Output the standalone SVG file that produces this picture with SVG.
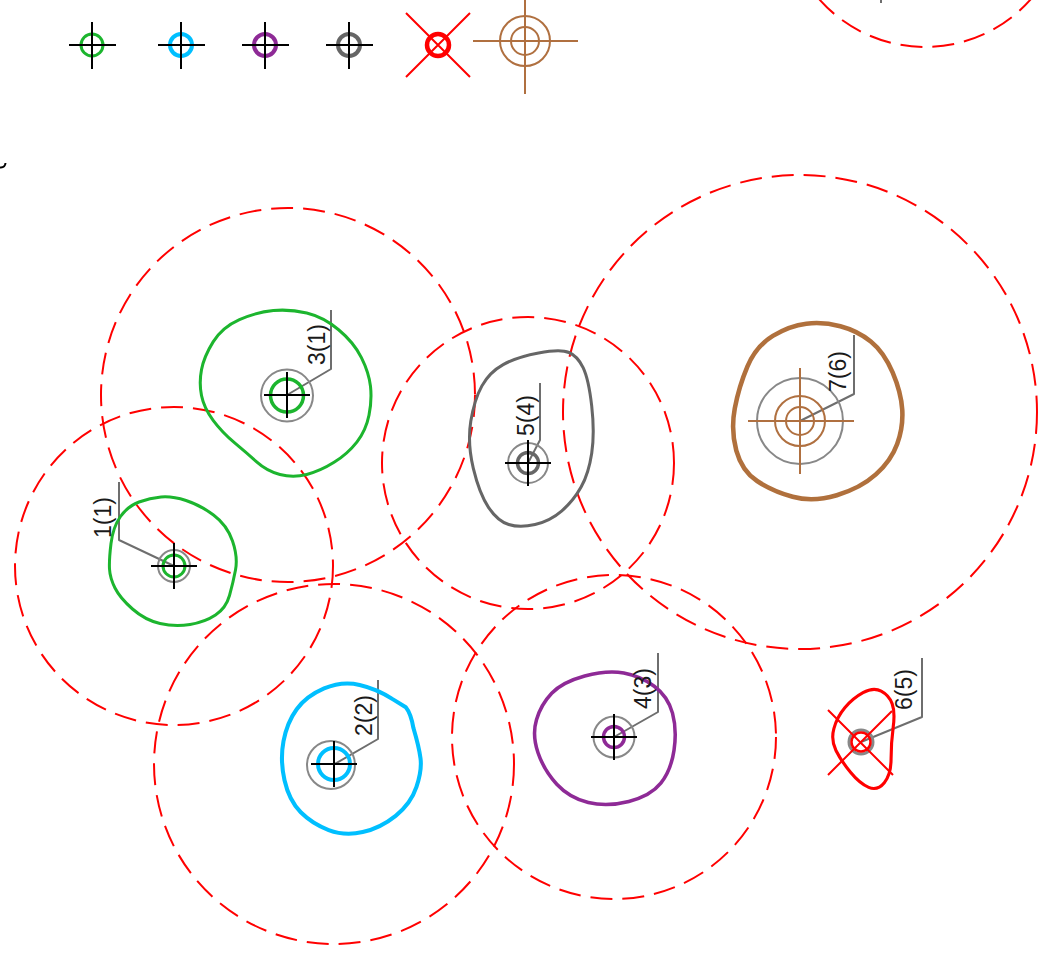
<svg xmlns="http://www.w3.org/2000/svg" width="1039" height="963" viewBox="0 0 1039 963">
<style>
.zone{fill:none;stroke:#ff0000;stroke-width:2;stroke-dasharray:22 10}
.blob{fill:none;stroke-linejoin:round}
.ring{fill:none;stroke:#888888;stroke-width:2}
.leader{fill:none;stroke:#6e6e6e;stroke-width:2;stroke-linejoin:round}
.cross{fill:none;stroke:#000000;stroke-width:2}
.rc{fill:none;stroke:#b07040;stroke-width:2}
.x{fill:none;stroke:#ff0000;stroke-width:2}
.lbl{font-family:"Liberation Sans",Arial,sans-serif;font-size:23px;fill:#1a1a1a}
.green{stroke:#1cb52e}.blue{stroke:#00bfff}.purple{stroke:#8e2a96}.gray{stroke:#666666}.red{stroke:#ff0000}.brown{stroke:#b0703c}
</style>
<g id="legend">
<g id="legend-green"><circle cx="92" cy="45" r="11" fill="none" class="green" stroke-width="3"/><path class="cross" d="M69 45H116M92 22V69"/></g>
<g id="legend-blue"><circle cx="181" cy="45" r="11" fill="none" class="blue" stroke-width="4"/><path class="cross" d="M158 45H205M181 22V69"/></g>
<g id="legend-purple"><circle cx="265" cy="45" r="11" fill="none" class="purple" stroke-width="4"/><path class="cross" d="M242 45H289M265 22V69"/></g>
<g id="legend-gray"><circle cx="349" cy="45" r="11" fill="none" class="gray" stroke-width="4"/><path class="cross" d="M326 45H373M349 22V69"/></g>
<g id="legend-red"><circle cx="438" cy="45" r="11" fill="none" class="red" stroke-width="4.500"/><path class="x" d="M406 13L470 77M470 13L406 77"/></g>
<g id="legend-brown"><circle cx="525" cy="41" r="25" class="rc"/><circle cx="525" cy="41" r="14" class="rc"/><path class="rc" d="M473 41H578M525 -12V94"/></g>
</g>
<g id="connectors">
<path class="leader" d="M331 310V369L287 395"/>
<path class="leader" d="M119 482V540L174 566"/>
<path class="leader" d="M378 680V739L333 765"/>
<path class="leader" d="M658 653V712L614 737"/>
<path class="leader" d="M540 383V440L528 463"/>
<path class="leader" d="M922 658V717L861 742"/>
<path class="leader" d="M854 335V394L800 421"/>
<path class="leader" d="M881 0V3"/>
</g>
<g id="zones">
<circle class="zone" cx="925" cy="-94" r="141"/>
<circle class="zone" cx="288" cy="395" r="187"/>
<circle class="zone" cx="174" cy="566" r="159"/>
<circle class="zone" cx="334" cy="764" r="180"/>
<circle class="zone" cx="614" cy="737" r="162"/>
<circle class="zone" cx="528" cy="463" r="146"/>
<circle class="zone" cx="800" cy="412" r="237"/>
</g>
<g id="node-1">
<path class="blob green" stroke-width="3" d="M111 543.500Q113 527 120.500 516.500Q128 506 139 502Q150 498 161 497Q172 496 186 500.500Q200 505 213.500 515Q227 525 232.500 541Q238 557 235.500 570Q233 583 229.500 595.500Q226 608 215.500 615Q205 622 190 624.500Q175 627 160 623.500Q145 620 132.500 609Q120 598 115 588Q110 578 109.500 569Q109 560 111 543.500Z"/>
<circle class="ring" cx="174" cy="566" r="16"/><circle cx="174" cy="566" r="11" fill="none" class="green" stroke-width="3"/>
<path class="cross" d="M151 566H197M174 543V589"/>
<text class="lbl" transform="translate(111 538) rotate(-90)">1(1)</text>
</g>
<g id="node-2">
<path class="blob blue" stroke-width="4" transform="translate(351 759) scale(1.015) translate(-351 -759)" d="M284.500 741.500Q288 723 297.500 710Q307 697 324.500 689.500Q342 682 359.500 686Q377 690 392 700L405 708Q410 714 412.500 728.500Q418 747 419.500 758.500Q421 770 415.500 786.500Q410 803 395 815Q380 827 362.500 831Q345 835 329 829Q313 823 301.500 811.500Q290 800 285.500 780Q281 760 284.500 741.500Z"/>
<circle class="ring" cx="331" cy="765" r="24"/><circle cx="334" cy="764" r="16" fill="none" class="blue" stroke-width="4"/>
<path class="cross" d="M311 764H357M334 741V787"/>
<text class="lbl" transform="translate(372 736) rotate(-90)">2(2)</text>
</g>
<g id="node-3">
<path class="blob green" stroke-width="3" transform="translate(286 393) scale(1.012) translate(-286 -393)" d="M202.500 370Q205 357 214 342.500Q223 328 240 320.500Q257 313 273.500 311.500Q290 310 306.500 314Q323 318 338 330.500Q353 343 360.500 358Q368 373 369.500 386.500Q371 400 368 415Q365 430 356 441.500Q347 453 333.500 461.500Q320 470 306.500 473.500Q293 477 280 473.500Q267 470 257 461Q247 452 235 442Q223 432 214 420Q205 408 202.500 395.500Q200 383 202.500 370Z"/>
<circle class="ring" cx="287" cy="395.500" r="26"/><circle cx="287" cy="395.500" r="16.500" fill="none" class="green" stroke-width="3.500"/>
<path class="cross" d="M264 395H310M287 372V418"/>
<text class="lbl" transform="translate(325 365) rotate(-90)">3(1)</text>
</g>
<g id="node-4">
<path class="blob purple" stroke-width="3.500" transform="translate(605 738) scale(1.015) translate(-605 -738)" d="M537.500 720Q542 705 552.500 694Q563 683 585 677Q607 671 623.500 674Q640 677 653.500 687Q667 697 671.500 713.500Q676 730 673 750Q670 770 660 782.500Q650 795 628.500 800.500Q607 806 588.500 801.500Q570 797 557.500 783.500Q545 770 539 752.500Q533 735 537.500 720Z"/>
<circle class="ring" cx="614" cy="737" r="20.500"/><circle cx="614" cy="737" r="10.500" fill="none" class="purple" stroke-width="3.500"/>
<path class="cross" d="M591 737H637M614 714V760"/>
<text class="lbl" transform="translate(651 709) rotate(-90)">4(3)</text>
</g>
<g id="node-5">
<path class="blob gray" stroke-width="3" transform="translate(531 438) scale(1.012) translate(-531 -438)" d="M471.500 421.500Q475 400 482.500 386.500Q490 373 503.500 365.500Q517 358 538.500 354Q560 350 568.500 353.500Q577 357 582.500 368.500Q588 380 591 406.500Q594 433 591 453Q588 473 580.500 486.500Q573 500 561.500 510Q550 520 535 523.500Q520 527 509 523.500Q498 520 489 506.500Q480 493 474 468Q468 443 471.500 421.500Z"/>
<circle class="ring" cx="528" cy="463" r="20"/><circle cx="528" cy="463" r="10.500" fill="none" class="gray" stroke-width="3.500"/>
<path class="cross" d="M505 463H551M528 440V486"/>
<text class="lbl" transform="translate(534 436) rotate(-90)">5(4)</text>
</g>
<g id="node-6">
<path class="blob red" stroke-width="3" transform="translate(863 739) scale(1.04) translate(-863 -739)" d="M835 729Q838 718 845.500 709Q853 700 863 694.500Q873 689 880.500 693Q888 697 891 705Q894 713 892 728Q890 743 890 758Q890 773 883.500 781Q877 789 868.500 785.500Q860 782 851 771Q842 760 837 750Q832 740 835 729Z"/>
<circle cx="861" cy="742" r="12" fill="none" stroke="#888888" stroke-width="3"/><circle cx="861" cy="742" r="9.500" fill="none" class="red" stroke-width="2.500"/>
<path class="x" d="M828 710L893 775M828 775L892 711"/>
<text class="lbl" transform="translate(912 710) rotate(-90)">6(5)</text>
</g>
<g id="node-7">
<path class="blob brown" stroke-width="4.500" transform="translate(817 412) scale(1.015) translate(-817 -412)" d="M736 408.500Q740 387 748.500 367Q757 347 773.500 337Q790 327 806.500 325Q823 323 840 327.500Q857 332 870 342.500Q883 353 891.500 373Q900 393 901 410Q902 427 896 443.500Q890 460 875 473.500Q860 487 836.500 494Q813 501 793 495.500Q773 490 758 480Q743 470 737.500 450Q732 430 736 408.500Z"/>
<circle class="ring" cx="800" cy="421" r="43"/><circle cx="800" cy="421" r="25" class="rc"/><circle cx="800" cy="421" r="14" class="rc"/>
<path class="rc" d="M748 421H854M800 368V474"/>
<text class="lbl" transform="translate(846 392) rotate(-90)">7(6)</text>
</g>
<path d="M0 167.500Q5 168 5.500 163" fill="none" stroke="#000000" stroke-width="2"/>
</svg>
